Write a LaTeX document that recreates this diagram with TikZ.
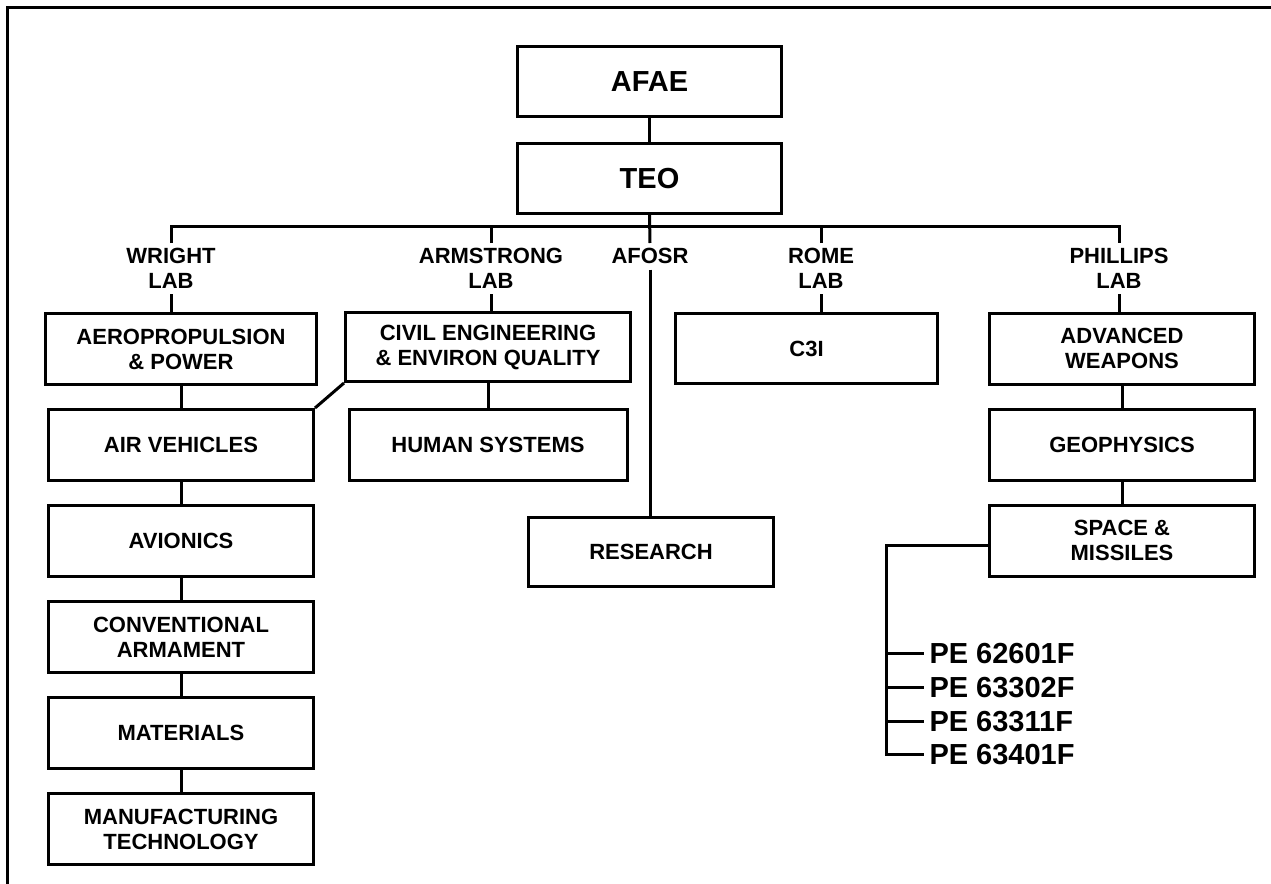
\documentclass[tikz,border=0pt]{standalone}
\usepackage{fontspec}
\setmainfont{Liberation Sans}
\usetikzlibrary{positioning}

\tikzset{
  unit/.style={draw, minimum width=132.5pt, minimum height=35.5pt, align=center, font=\fontsize{11}{12.5}\selectfont\bfseries},
  head/.style={unit, minimum width=132pt, minimum height=35pt, font=\fontsize{14.5}{16}\selectfont\bfseries},
  labName/.style={align=center, inner sep=2pt, anchor=north, font=\fontsize{11}{12.5}\selectfont\bfseries},
  peName/.style={anchor=west, inner sep=2pt, font=\fontsize{14.5}{16}\selectfont\bfseries}
}

\begin{document}
\begin{tikzpicture}[x=0.5pt, y=-0.5pt, node distance=11pt, line width=1.5pt]
    \useasboundingbox (0,0) rectangle (1271,884);
    \draw (7,884) -- (7,7) -- (1271,7);

    \node[head] (afae) at (649.5, 81.5) {AFAE};
    \node[head, below = 12pt of afae] (teo) {TEO};
    \coordinate (bus) at (649.5, 226);

    \node[labName] (wrightLab) at (171, 243) {WRIGHT\\LAB};
    \node[labName] (armstrongLab) at (491, 243) {ARMSTRONG\\LAB};
    \node[labName] (afosr) at (650, 243) {AFOSR};
    \node[labName] (romeLab) at (821, 243) {ROME\\LAB};
    \node[labName] (phillipsLab) at (1119, 243) {PHILLIPS\\LAB};

    \node[unit, minimum width=135.5pt] (aero) at (181, 349) {AEROPROPULSION\\\& POWER};
    \node[unit, below = of aero] (airVehicles) {AIR VEHICLES};
    \node[unit, below = of airVehicles] (avionics) {AVIONICS};
    \node[unit, below = of avionics] (armament) {CONVENTIONAL\\ARMAMENT};
    \node[unit, below = of armament] (materials) {MATERIALS};
    \node[unit, below = of materials] (manufacturing) {MANUFACTURING\\TECHNOLOGY};

    \node[unit, minimum width=142.5pt, minimum height=34.5pt] (civil) at (488, 347) {CIVIL ENGINEERING\\\& ENVIRON QUALITY};
    \node[unit, minimum width=139pt, below = 12.5pt of civil] (human) {HUMAN SYSTEMS};
    \node[unit, minimum width=122.5pt, minimum height=34.5pt] (research) at (651, 552) {RESEARCH};
    \node[unit, minimum width=131pt, minimum height=35pt] (c3i) at (806.5, 348.5) {C3I};

    \node[unit] (weapons) at (1122, 348.5) {ADVANCED\\WEAPONS};
    \node[unit, below = of weapons] (geophysics) {GEOPHYSICS};
    \node[unit, below = of geophysics] (space) {SPACE \&\\MISSILES};

    \foreach \pe [count=\i] in {62601,63302,63311,63401}
        \node[peName] (pe\i) at (924, 620+33.7*\i) {PE \pe F};
    \coordinate (bracket) at (886, 545);

    \draw (afae) -- (teo);
    \draw (teo.south) -- (afosr.north);
    \draw (wrightLab.north) |- (bus) -| (phillipsLab.north);
    \draw (armstrongLab.north) -- (armstrongLab.north |- bus);
    \draw (romeLab.north) -- (romeLab.north |- bus);

    \draw (wrightLab.south) -- (wrightLab.south |- aero.north);
    \draw (armstrongLab.south) -- (armstrongLab.south |- civil.north);
    \draw (afosr.south) -- (afosr.south |- research.north);
    \draw (romeLab.south) -- (romeLab.south |- c3i.north);
    \draw (phillipsLab.south) -- (phillipsLab.south |- weapons.north);

    \draw (aero) -- (airVehicles);
    \draw (airVehicles) -- (avionics);
    \draw (avionics) -- (armament);
    \draw (armament) -- (materials);
    \draw (materials) -- (manufacturing);
    \draw (civil.south west) -- (airVehicles.north east);
    \draw (civil) -- (human);
    \draw (weapons) -- (geophysics);
    \draw (geophysics) -- (space);

    \draw (space.west |- bracket) -- (bracket) -- (bracket |- pe4.west) -- (pe4.west);
    \foreach \i in {1,2,3}
        \draw (bracket |- pe\i.west) -- (pe\i.west);
\end{tikzpicture}
\end{document}
